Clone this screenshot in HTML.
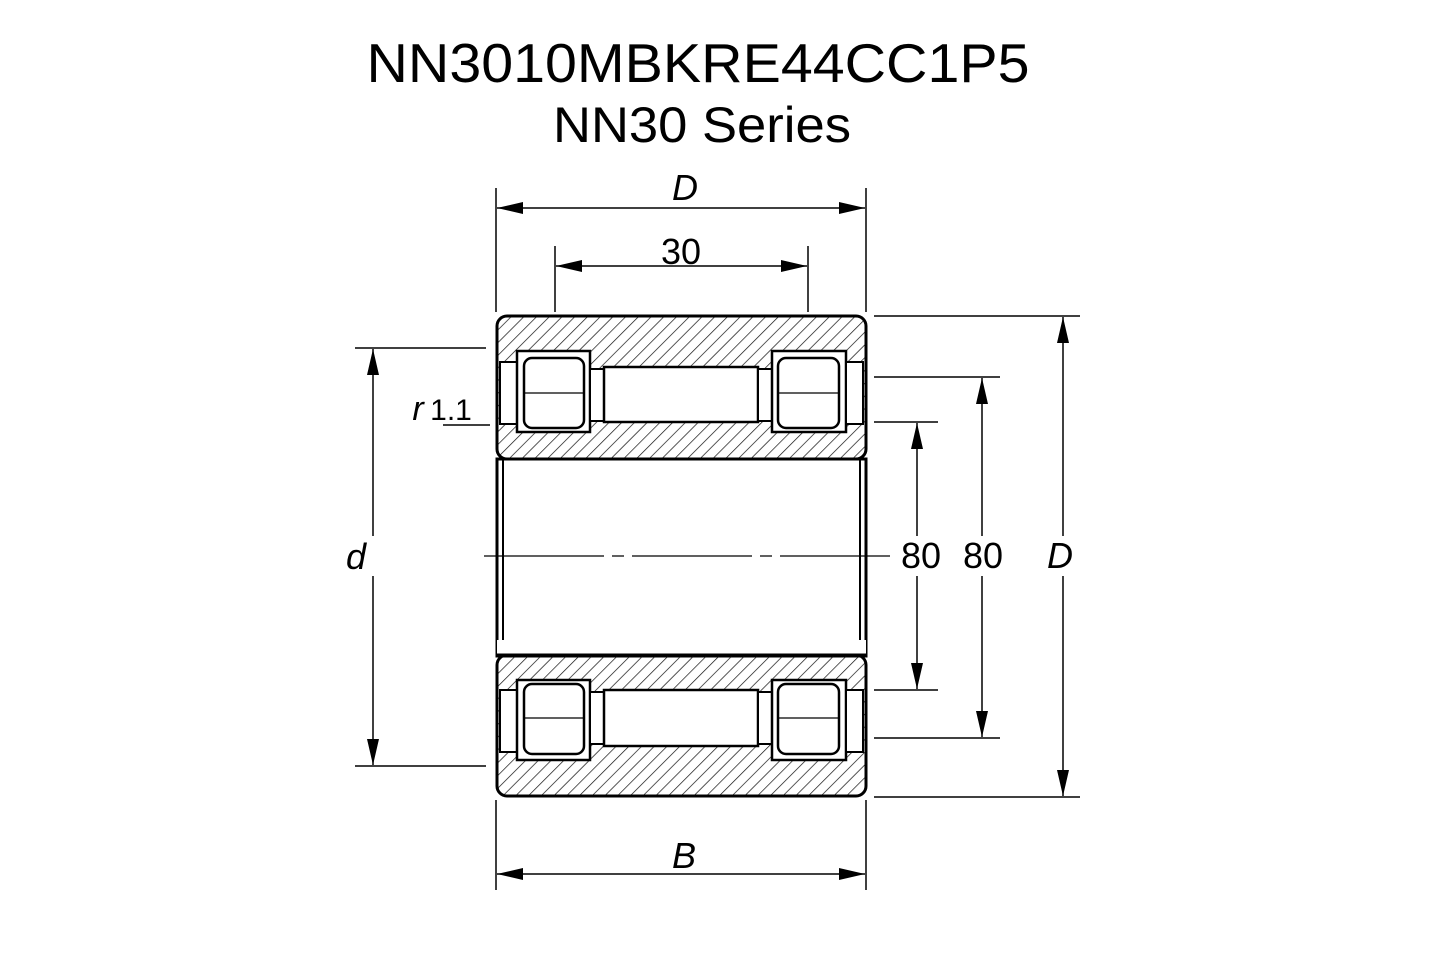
<!DOCTYPE html>
<html><head><meta charset="utf-8"><style>html,body{margin:0;padding:0;background:#fff}svg{display:block}</style></head>
<body>
<svg width="1445" height="963" viewBox="0 0 1445 963" xmlns="http://www.w3.org/2000/svg" font-family="Liberation Sans, Arial, sans-serif">
<defs>
<pattern id="h" patternUnits="userSpaceOnUse" width="9" height="9" patternTransform="rotate(45)">
<line x1="0" y1="0" x2="0" y2="9" stroke="#111" stroke-width="1.4"/>
</pattern>
<marker id="a" markerWidth="26" markerHeight="12" refX="26" refY="6" orient="auto" markerUnits="userSpaceOnUse">
<path d="M0,0 L26,6 L0,12 Z" fill="#000"/></marker>
<marker id="b" markerWidth="26" markerHeight="12" refX="0" refY="6" orient="auto" markerUnits="userSpaceOnUse">
<path d="M26,0 L0,6 L26,12 Z" fill="#000"/></marker>
</defs>
<text x="698" y="82" font-size="55" text-anchor="middle" textLength="663" lengthAdjust="spacingAndGlyphs">NN3010MBKRE44CC1P5</text>
<text x="702" y="142" font-size="50" text-anchor="middle" textLength="298" lengthAdjust="spacingAndGlyphs">NN30 Series</text>

<rect x="497" y="316" width="369" height="143" rx="10" fill="url(#h)" stroke="#000" stroke-width="3"/>
<rect x="497" y="459" width="369" height="197" fill="#fff" stroke="#000" stroke-width="3"/>
<line x1="503" y1="459" x2="503" y2="656" stroke="#000" stroke-width="2"/>
<line x1="860" y1="459" x2="860" y2="656" stroke="#000" stroke-width="2"/>
<rect x="497" y="655" width="369" height="141" rx="10" fill="url(#h)" stroke="#000" stroke-width="3"/>
<rect x="497" y="640" width="369" height="16" fill="#fff"/>
<line x1="497" y1="655" x2="866" y2="655" stroke="#000" stroke-width="3"/>
<line x1="497" y1="459" x2="866" y2="459" stroke="#000" stroke-width="3"/>

<g stroke="#000" stroke-width="2.5" fill="#fff">
<rect x="500" y="362" width="17" height="62" stroke-width="2"/>
<rect x="517" y="351" width="73" height="81"/>
<rect x="524" y="358" width="60" height="70" rx="8"/>
<rect x="590" y="369" width="14" height="52" stroke-width="2"/>
<rect x="604" y="367" width="154" height="55"/>
<rect x="758" y="369" width="14" height="52" stroke-width="2"/>
<rect x="772" y="351" width="74" height="81"/>
<rect x="778" y="358" width="61" height="70" rx="8"/>
<rect x="846" y="362" width="17" height="62" stroke-width="2"/>
<rect x="500" y="690" width="17" height="62" stroke-width="2"/>
<rect x="517" y="680" width="73" height="80"/>
<rect x="524" y="684" width="60" height="70" rx="8"/>
<rect x="590" y="692" width="14" height="52" stroke-width="2"/>
<rect x="604" y="690" width="154" height="56"/>
<rect x="758" y="692" width="14" height="52" stroke-width="2"/>
<rect x="772" y="680" width="74" height="80"/>
<rect x="778" y="684" width="61" height="70" rx="8"/>
<rect x="846" y="690" width="17" height="62" stroke-width="2"/>
</g>
<g stroke="#000" stroke-width="1.3">
<line x1="524" y1="393" x2="584" y2="393"/><line x1="778" y1="393" x2="839" y2="393"/>
<line x1="524" y1="718" x2="584" y2="718"/><line x1="778" y1="718" x2="839" y2="718"/>
<line x1="484" y1="556" x2="890" y2="556" stroke-dasharray="120,8,12,8"/>
</g>

<g stroke="#000" stroke-width="1.5" fill="none">
<line x1="496" y1="188" x2="496" y2="312"/><line x1="866" y1="188" x2="866" y2="312"/>
<line x1="497" y1="208" x2="865" y2="208" marker-start="url(#b)" marker-end="url(#a)"/>
<line x1="555" y1="246" x2="555" y2="312"/><line x1="808" y1="246" x2="808" y2="312"/>
<line x1="556" y1="266" x2="807" y2="266" marker-start="url(#b)" marker-end="url(#a)"/>
<line x1="355" y1="348" x2="486" y2="348"/><line x1="355" y1="766" x2="486" y2="766"/>
<line x1="373" y1="349" x2="373" y2="765" marker-start="url(#b)" marker-end="url(#a)"/>
<line x1="443" y1="425" x2="490" y2="425"/>
<line x1="874" y1="316" x2="1080" y2="316"/><line x1="874" y1="797" x2="1080" y2="797"/>
<line x1="1063" y1="317" x2="1063" y2="796" marker-start="url(#b)" marker-end="url(#a)"/>
<line x1="874" y1="377" x2="1000" y2="377"/><line x1="874" y1="738" x2="1000" y2="738"/>
<line x1="982" y1="378" x2="982" y2="737" marker-start="url(#b)" marker-end="url(#a)"/>
<line x1="874" y1="422" x2="938" y2="422"/><line x1="874" y1="690" x2="938" y2="690"/>
<line x1="917" y1="423" x2="917" y2="689" marker-start="url(#b)" marker-end="url(#a)"/>
<line x1="496" y1="800" x2="496" y2="890"/><line x1="866" y1="800" x2="866" y2="890"/>
<line x1="497" y1="874" x2="865" y2="874" marker-start="url(#b)" marker-end="url(#a)"/>
</g>
<g fill="#fff">
<rect x="340" y="536" width="34" height="40"/>
<rect x="896" y="536" width="50" height="40"/>
<rect x="958" y="536" width="50" height="40"/>
<rect x="1040" y="536" width="40" height="40"/>
</g>
<g font-size="36" fill="#000" text-anchor="middle">
<text x="685" y="200" font-style="italic">D</text>
<text x="681" y="264">30</text>
<text x="356" y="569" font-style="italic">d</text>
<text x="921" y="568">80</text>
<text x="983" y="568">80</text>
<text x="1060" y="568" font-style="italic">D</text>
<text x="684" y="868" font-style="italic">B</text>
<text x="418" y="420" font-style="italic" font-size="34">r</text>
<text x="451" y="420" font-size="30">1.1</text>
</g>
</svg>
</body></html>
